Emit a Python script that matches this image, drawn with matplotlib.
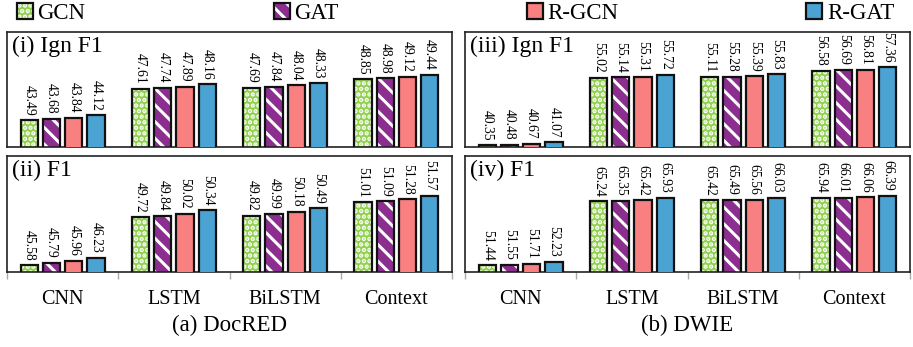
import matplotlib
matplotlib.use('Agg')
import matplotlib.pyplot as plt
import numpy as np
from matplotlib.patches import Patch

plt.rcParams['font.family'] = ['Liberation Serif', 'DejaVu Serif']
plt.rcParams['hatch.linewidth'] = 2.2

categories = ['CNN', 'LSTM', 'BiLSTM', 'Context']
models = ['GCN', 'GAT', 'R-GCN', 'R-GAT']

# rows: GCN, GAT, R-GCN, R-GAT ; columns: CNN, LSTM, BiLSTM, Context
docred_ign = [[43.49, 47.61, 47.69, 48.85],
              [43.68, 47.74, 47.84, 48.98],
              [43.84, 47.89, 48.04, 49.12],
              [44.12, 48.16, 48.33, 49.44]]
docred_f1 = [[45.58, 49.72, 49.82, 51.01],
             [45.79, 49.84, 49.99, 51.09],
             [45.96, 50.02, 50.18, 51.28],
             [46.23, 50.34, 50.49, 51.57]]
dwie_ign = [[40.35, 55.02, 55.11, 56.58],
            [40.48, 55.14, 55.28, 56.69],
            [40.67, 55.31, 55.39, 56.81],
            [41.07, 55.72, 55.83, 57.36]]
dwie_f1 = [[51.44, 65.24, 65.42, 65.94],
           [51.55, 65.35, 65.49, 66.01],
           [51.71, 65.42, 65.56, 66.06],
           [52.23, 65.93, 66.03, 66.39]]

panel_titles = ['(i) Ign F1', '(ii) F1', '(iii) Ign F1', '(iv) F1']
captions = ['(a) DocRED', '(b) DWIE']

colors = ['#92d050', '#8b2e8f', '#f98080', '#4ba3d3']
hatches = ['...', '\\\\', None, None]

W, H = 913, 347
fig = plt.figure(figsize=(W / 100, H / 100), dpi=100)

def fx(px):
    return px / W

def fy(py):
    return 1 - py / H

left_x = [7, 465]
panel_w = 445
rows = [(32, 147), (156, 272)]

panels = [
    (0, 0, docred_ign, (40, 55), panel_titles[0]),
    (0, 1, docred_f1, (45, 55), panel_titles[1]),
    (1, 0, dwie_ign, (40, 65), panel_titles[2]),
    (1, 1, dwie_f1, (50, 75), panel_titles[3]),
]

x = np.arange(len(categories))
offsets = [-0.3, -0.1, 0.1, 0.3]
bw = 0.155

for col, row, data, ylim, title in panels:
    top, bot = rows[row]
    ax = fig.add_axes([fx(left_x[col]), fy(bot), fx(panel_w), (bot - top) / H])
    for i, m in enumerate(models):
        xs = x + offsets[i]
        vals = data[i]
        if hatches[i]:
            ax.bar(xs, vals, bw, color=colors[i], edgecolor='white',
                   hatch=hatches[i], linewidth=0, zorder=2)
            ax.bar(xs, vals, bw, fill=False, edgecolor='#111111',
                   linewidth=1.6, zorder=3)
        else:
            ax.bar(xs, vals, bw, color=colors[i], edgecolor='#111111',
                   linewidth=1.6, zorder=3)
        for xv, v in zip(xs, vals):
            ax.annotate('%.2f' % v, (xv, v), xytext=(0, 3.5),
                        textcoords='offset points', rotation=-90,
                        ha='center', va='bottom', fontsize=9.8)
    ax.set_xlim(-0.5, 3.5)
    ax.set_ylim(*ylim)
    ax.set_yticks([])
    for s in ax.spines.values():
        s.set_linewidth(1.2)
        s.set_color('#222222')
    ax.text(0.011, 0.965, title, transform=ax.transAxes, ha='left', va='top',
            fontsize=17)
    if row == 1:
        ax.set_xticks(x)
        ax.set_xticklabels(categories, fontsize=14.5)
        ax.tick_params(axis='x', which='major', length=0, pad=13)
        ax.set_xticks([-0.5, 0.5, 1.5, 2.5, 3.5], minor=True)
        ax.tick_params(axis='x', which='minor', length=5, width=1,
                       color='#aaaaaa', direction='out')
    else:
        ax.set_xticks([])

fig.text(fx(229.5), fy(325), captions[0], ha='center', va='center', fontsize=16.5)
fig.text(fx(687.5), fy(325), captions[1], ha='center', va='center', fontsize=16.5)

handles = []
for i, m in enumerate(models):
    if hatches[i]:
        h = (Patch(facecolor=colors[i], edgecolor='white', hatch=hatches[i], linewidth=0),
             Patch(fill=False, edgecolor='#111111', linewidth=1.6))
    else:
        h = Patch(facecolor=colors[i], edgecolor='#111111', linewidth=1.6)
    handles.append(h)

fig.legend(handles, models, loc='center', bbox_to_anchor=(0.499, 0.962),
           ncol=4, frameon=False, fontsize=16.5, handlelength=0.7,
           handleheight=0.7, handletextpad=0.2, columnspacing=8.2,
           borderpad=0, borderaxespad=0)

fig.savefig('out.png', dpi=100)
